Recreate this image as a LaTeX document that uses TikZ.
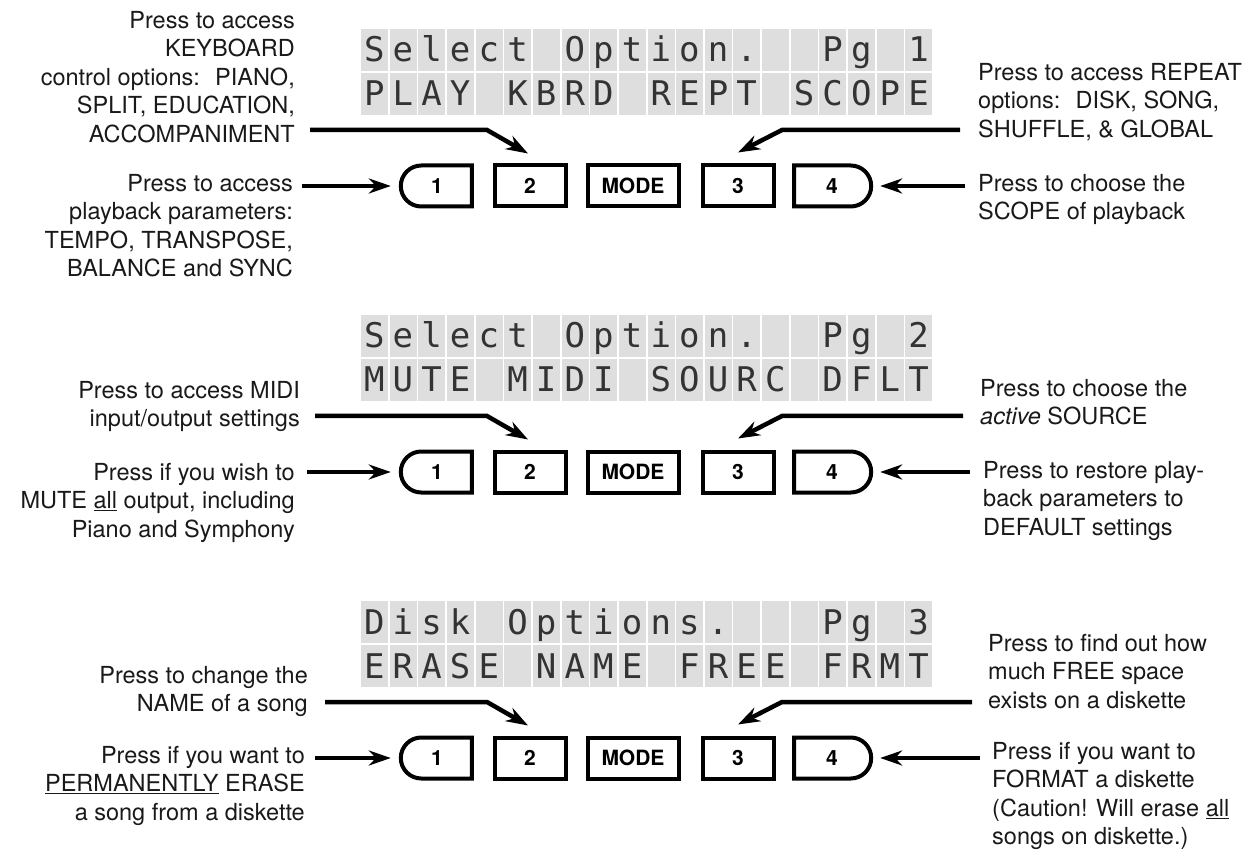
\documentclass[tikz,border=0pt]{standalone}
\usepackage{fontspec}
\setmainfont{TeX Gyre Heros}
\newfontfamily\lcdfont{DejaVu Sans Mono}
\usetikzlibrary{shapes.misc,arrows.meta,calc}

% one line of the display, one glyph per cell
\newcommand\lcdrow[2]{%
  \foreach \ch [count=\i from 0] in {#2}
    \node[lcd] at (374.25+28.65*\i, #1) (g-#1-\i) {\ch};}

\begin{document}
\begin{tikzpicture}[x=1pt, y=-1pt,
    btn/.style={draw, line width=4pt, minimum width=71pt, minimum height=41pt, inner sep=0pt, font=\fontsize{21}{24}\selectfont\bfseries},
    lbtn/.style={btn, rounded rectangle, rounded rectangle right arc=none},
    rbtn/.style={btn, rounded rectangle, rounded rectangle left arc=none},
    cell/.style={fill=black!13},
    lcd/.style={anchor=base, inner sep=0pt, text=black!80, font=\lcdfont\fontsize{34}{34}\selectfont},
    note/.style={inner sep=0pt, text=black!90, font=\fontsize{23.5}{28.5}\selectfont},
    lnote/.style={note, anchor=north east, align=right},
    rnote/.style={note, anchor=north west, align=left},
    arr/.style={line width=4.5pt, -{Stealth[length=22pt, width=15pt]}}]
    \useasboundingbox (0, 0) rectangle (1254, 850);

    % displays and keys
    \foreach \s/\dy in {1/0, 2/286, 3/572} {
        \foreach \i in {0,...,19}
            \foreach \r in {0,1}
                \fill[cell] (361+28.65*\i, 29+\dy+44*\r) rectangle ++(27, 42);
        \node at (437, 186+\dy) [lbtn] (k1-\s) {1};
        \node at (530, 186+\dy) [btn] (k2-\s) {2};
        \node at (633, 186+\dy) [btn, minimum width=91pt] (km-\s) {MODE};
        \node at (738, 186+\dy) [btn] (k3-\s) {3};
        \node at (832, 186+\dy) [rbtn, minimum width=77pt] (k4-\s) {4};
    }

    \lcdrow{62}{S,e,l,e,c,t,{},O,p,t,i,o,n,.,{},{},P,g,{},1}
    \lcdrow{106}{P,L,A,Y,{},K,B,R,D,{},R,E,P,T,{},S,C,O,P,E}
    \lcdrow{348}{S,e,l,e,c,t,{},O,p,t,i,o,n,.,{},{},P,g,{},2}
    \lcdrow{392}{M,U,T,E,{},M,I,D,I,{},S,O,U,R,C,{},D,F,L,T}
    \lcdrow{634}{D,i,s,k,{},O,p,t,i,o,n,s,.,{},{},{},P,g,{},3}
    \lcdrow{678}{E,R,A,S,E,{},N,A,M,E,{},F,R,E,E,{},F,R,M,T}

    % page 1
    \node at (295, 11) [lnote] (kbd1) {Press to access\\KEYBOARD\\control options:~ PIANO,\\SPLIT, EDUCATION,\\ACCOMPANIMENT};
    \node at (293, 174) [lnote] (play1) {Press to access\\playback parameters:\\TEMPO, TRANSPOSE,\\BALANCE and SYNC};
    \node at (978, 63) [rnote] (rept1) {Press to access REPEAT\\options:~ DISK, SONG,\\SHUFFLE, \& GLOBAL};
    \node at (978, 174) [rnote] (scope1) {Press to choose the\\SCOPE of playback};

    \coordinate (kbd1-t) at (310, 130);
    \coordinate (play1-t) at (302, 186);
    \coordinate (rept1-t) at (960, 130);
    \coordinate (scope1-t) at (965, 186);
    \draw[arr] (kbd1-t) -- ++(177, 0) -- ($(k2-1.north)+(-2, -10)$);
    \draw[arr, shorten >=8pt] (play1-t) -- (k1-1.west);
    \draw[arr] (rept1-t) -- ++(-178, 0) -- ($(k3-1.north)+(0, -11)$);
    \draw[arr, shorten >=7pt] (scope1-t) -- (k4-1.east);

    % page 2
    \node at (300, 381) [lnote] (midi2) {Press to access MIDI\\input/output settings};
    \node at (295, 463) [lnote] (mute2) {Press if you wish to\\MUTE \underline{all} output, including\\Piano and Symphony};
    \node at (980, 379) [rnote] (src2) {Press to choose the\\\textit{active} SOURCE};
    \node at (983, 461) [rnote] (dflt2) {Press to restore play-\\back parameters to\\DEFAULT settings};

    \coordinate (midi2-t) at (315, 416);
    \coordinate (mute2-t) at (307, 472);
    \coordinate (src2-t) at (963, 416);
    \coordinate (dflt2-t) at (970, 472);
    \draw[arr] (midi2-t) -- ++(172, 0) -- ($(k2-2.north)+(-2, -10)$);
    \draw[arr, shorten >=8pt] (mute2-t) -- (k1-2.west);
    \draw[arr] (src2-t) -- ++(-181, 0) -- ($(k3-2.north)+(0, -11)$);
    \draw[arr, shorten >=7pt] (dflt2-t) -- (k4-2.east);

    % page 3
    \node at (308, 666) [lnote] (name3) {Press to change the\\NAME of a song};
    \node at (305, 746) [lnote] (erase3) {Press if you want to\\\underline{PERMANENTLY} ERASE\\a song from a diskette};
    \node at (988, 634) [rnote] (free3) {Press to find out how\\much FREE space\\exists on a diskette};
    \node at (992, 742) [rnote] (frmt3) {Press if you want to\\FORMAT a diskette\\(Caution! Will erase \underline{all}\\songs on diskette.)};

    \coordinate (name3-t) at (325, 702);
    \coordinate (erase3-t) at (315, 758);
    \coordinate (free3-t) at (972, 702);
    \coordinate (frmt3-t) at (980, 758);
    \draw[arr] (name3-t) -- ++(162, 0) -- ($(k2-3.north)+(-2, -10)$);
    \draw[arr, shorten >=8pt] (erase3-t) -- (k1-3.west);
    \draw[arr] (free3-t) -- ++(-190, 0) -- ($(k3-3.north)+(0, -11)$);
    \draw[arr, shorten >=7pt] (frmt3-t) -- (k4-3.east);
\end{tikzpicture}
\end{document}
